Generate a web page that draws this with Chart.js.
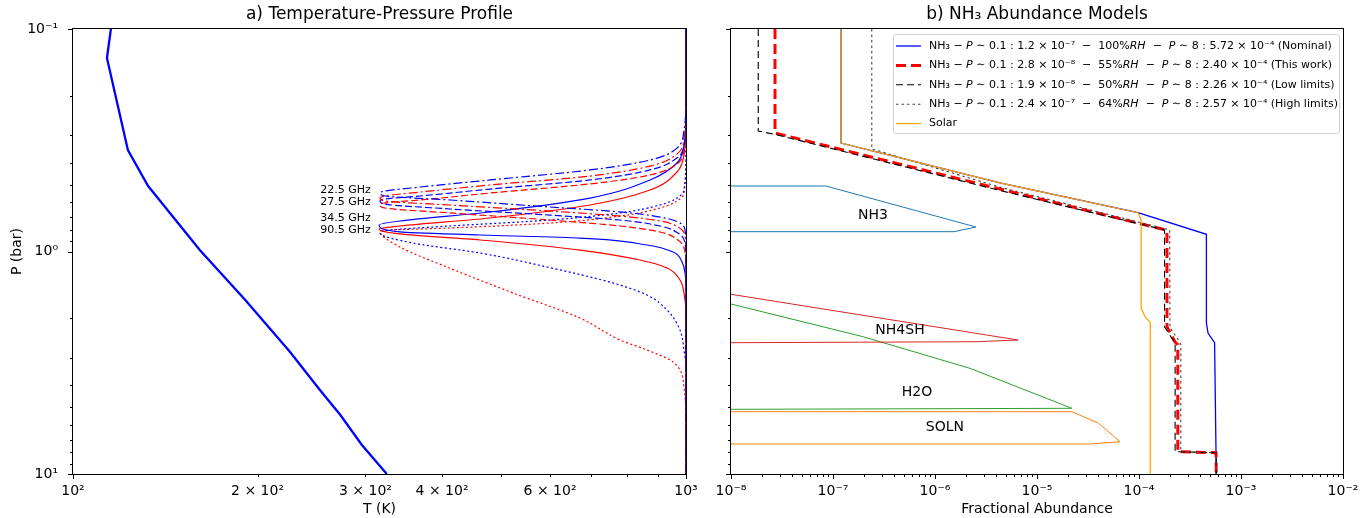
<!DOCTYPE html>
<html><head><meta charset="utf-8">
<script src="https://cdn.jsdelivr.net/npm/chart.js@4.4.0/dist/chart.umd.min.js"></script>
<style>
html,body{margin:0;padding:0;background:#fff;}
#wrap{position:relative;width:1372px;height:518px;background:#fff;}
canvas{position:absolute;top:0;}
</style></head>
<body><div id="wrap">
<canvas id="left" width="700" height="518" style="left:0;width:700px;height:518px"></canvas>
<canvas id="right" width="672" height="518" style="left:700px;width:672px;height:518px"></canvas>
</div>
<script>
// ================= DATA: panel a) Temperature-Pressure Profile =================
// [T (K), P (bar)]
const tpProfile = [[115.3,0.1],[113.6,0.135],[122.9,0.35],[132.6,0.508],[161,0.985],[191,1.65],[226,2.83],[253,4.2],[273,5.43],[296,7.41],[325,10]];
// weighting functions (plotted on the T axis)
const wf22Blue = [[1000,0.1],[1000,0.21],[992.5,0.284],[966.7,0.343],[873.7,0.388],[697.3,0.43],[479,0.477],[368.2,0.513],[322.8,0.535],[316.8,0.546],[322.8,0.563],[412.1,0.587],[600,0.631],[780.5,0.664],[907.2,0.7],[970.4,0.737],[996.3,0.801],[1000,0.935],[1000,10]];
const wf22Red  = [[1000,0.1],[1000,0.231],[992.5,0.309],[966.7,0.365],[873.7,0.413],[697.3,0.458],[479,0.5025],[368.2,0.5405],[322.8,0.563],[316.8,0.575],[322.8,0.593],[412.1,0.618],[600,0.658],[780.5,0.693],[907.2,0.729],[970.4,0.776],[996.3,0.852],[1000,0.985],[1000,10]];
const wf27Blue = [[1000,0.1],[1000,0.256],[992.5,0.332],[966.7,0.38],[873.7,0.43],[697.3,0.477],[479,0.524],[368.2,0.563],[322.8,0.581],[316.8,0.593],[322.8,0.612],[412.1,0.644],[600,0.686],[780.5,0.722],[907.2,0.768],[970.4,0.826],[996.3,0.916],[1000,1.09],[1000,10]];
const wf27Red  = [[1000,0.1],[1000,0.284],[992.5,0.35],[966.7,0.404],[873.7,0.453],[697.3,0.497],[479,0.546],[368.2,0.587],[322.8,0.605],[316.8,0.618],[322.8,0.6375],[412.1,0.671],[600,0.722],[780.5,0.768],[907.2,0.817],[970.4,0.888],[996.3,1.005],[1000,1.21],[1000,10]];
const wf34Blue = [[1000,0.1],[1000,0.231],[992.5,0.332],[966.7,0.4003],[873.7,0.477],[697.3,0.5751],[479,0.6645],[341.5,0.7293],[315.6,0.76],[341.5,0.817],[461.3,0.843],[671.6,0.87],[864,0.935],[952.4,1.005],[985.1,1.115],[996.3,1.249],[1000,1.49],[1000,10]];
const wf34Red  = [[1000,0.1],[1000,0.256],[992.5,0.3685],[966.7,0.4393],[873.7,0.5294],[697.3,0.618],[479,0.707],[341.5,0.768],[315.6,0.792],[341.5,0.834],[461.3,0.888],[671.6,0.985],[841.4,1.092],[931.1,1.186],[977.7,1.343],[992.5,1.537],[1000,1.93],[1000,10]];
const wf90Blue = [[1000,0.1],[1000,0.35],[992.5,0.529],[966.7,0.575],[907.2,0.618],[780.5,0.671],[600,0.722],[412.1,0.768],[328.9,0.801],[316.8,0.826],[358.6,0.916],[461.3,1.016],[593.4,1.174],[760.3,1.386],[864,1.569],[931.1,1.832],[977.7,2.253],[992.5,2.772],[1000,3.41],[1000,10]];
const wf90Red  = [[1000,0.1],[1000,0.3685],[992.5,0.546],[966.7,0.593],[907.2,0.6375],[780.5,0.693],[600,0.745],[412.1,0.784],[328.9,0.801],[316.8,0.809],[341.5,0.955],[407.4,1.174],[522.3,1.537],[671.6,1.991],[780.5,2.499],[864,2.772],[941.7,3.074],[977.7,3.41],[992.5,4.064],[996.3,4.508],[1000,5.71],[1000,10]];
const freqLabels = ['22.5 GHz','27.5 GHz','34.5 GHz','90.5 GHz'];
const freqLabelT = [306,306,306,306];
const freqLabelP = [0.529,0.599,0.707,0.801];
const tempTicks = [100,200,300,400,500,600,700,800,900,1000];
const tempTickLabels = ['10²','2 × 10²','3 × 10²','4 × 10²','','6 × 10²','','','','10³'];
const pressureTicks = [0.1,0.2,0.3,0.4,0.5,0.6,0.7,0.8,0.9,1,2,3,4,5,6,7,8,9,10];
const pressureTickLabels = ['10⁻¹','','','','','','','','','10⁰','','','','','','','','','10¹'];

// ================= DATA: panel b) NH3 Abundance Models =================
// [fractional abundance, P (bar)]
const nominalNH3  = [[1.2e-7,0.1],[1.2e-7,0.3254],[4.33e-6,0.492],[9.77e-5,0.6693],[4.58e-4,0.8369],[4.58e-4,2.096],[4.75e-4,2.325],[5.51e-4,2.57],[5.69e-4,8.04],[5.72e-4,10]];
const thisWorkNH3 = [[2.7e-8,0.1],[2.7e-8,0.2934],[4.33e-6,0.524],[1.84e-4,0.8007],[1.88e-4,0.82],[1.88e-4,2.178],[2.25e-4,2.544],[2.40e-4,2.62],[2.40e-4,7.94],[5.69e-4,8.02],[5.72e-4,10]];
const lowNH3      = [[1.85e-8,0.1],[1.85e-8,0.2874],[2.9e-8,0.3],[4.2e-6,0.53],[1.78e-4,0.8],[1.78e-4,2.18],[2.2e-4,2.54],[2.26e-4,2.62],[2.26e-4,7.94],[5.69e-4,8.02],[5.72e-4,10]];
const highNH3     = [[2.4e-7,0.1],[2.4e-7,0.346],[4.4e-6,0.515],[2.0e-4,0.8],[2.01e-4,2.2],[2.5e-4,2.544],[2.57e-4,2.62],[2.57e-4,7.94],[5.69e-4,8.02],[5.72e-4,10]];
const solarNH3    = [[1.2e-7,0.1],[1.2e-7,0.3254],[4.33e-6,0.492],[9.77e-5,0.6693],[1.05e-4,0.7218],[1.05e-4,1.795],[1.145e-4,1.963],[1.29e-4,2.089],[1.29e-4,10]];
const cloudNH3    = [[1e-8,0.5077],[8.5e-8,0.5077],[2.52e-6,0.7762],[1.535e-6,0.8147],[1e-8,0.8147]];
const cloudNH4SH  = [[1e-8,1.557],[6.52e-6,2.499],[2.58e-6,2.544],[1e-8,2.57]];
const cloudH2O    = [[1e-8,1.722],[1.97e-7,2.415],[2.2e-6,3.35],[2.2e-5,5.067],[1e-8,5.12]];
const cloudSOLN   = [[1e-8,5.248],[2.2e-5,5.248],[4.02e-5,5.92],[6.51e-5,7.157],[3.38e-5,7.33],[1e-8,7.33]];
const cloudLabels = ['NH3','NH4SH','H2O','SOLN'];
const cloudLabelX = [2.47e-7,4.54e-7,6.66e-7,1.25e-6];
const cloudLabelP = [0.6855,2.253,4.28,6.15];
const modelLabels = [
  'NH₃ − *P* ∼ 0.1 : 1.2 × 10⁻⁷  −  100%*RH*  −  *P* ∼ 8 : 5.72 × 10⁻⁴ (Nominal)',
  'NH₃ − *P* ∼ 0.1 : 2.8 × 10⁻⁸  −  55%*RH*  −  *P* ∼ 8 : 2.40 × 10⁻⁴ (This work)',
  'NH₃ − *P* ∼ 0.1 : 1.9 × 10⁻⁸  −  50%*RH*  −  *P* ∼ 8 : 2.26 × 10⁻⁴ (Low limits)',
  'NH₃ − *P* ∼ 0.1 : 2.4 × 10⁻⁷  −  64%*RH*  −  *P* ∼ 8 : 2.57 × 10⁻⁴ (High limits)',
  'Solar'
];
const abundDecades = [1e-8,1e-7,1e-6,1e-5,1e-4,1e-3,1e-2];
const abundDecadeLabels = ['10⁻⁸','10⁻⁷','10⁻⁶','10⁻⁵','10⁻⁴','10⁻³','10⁻²'];

// ================= rendering =================
const FONT = '"DejaVu Sans", sans-serif';
Chart.defaults.font.family = FONT;
Chart.defaults.color = '#000';
const pts = arr => arr.map(([x, y]) => ({x, y}));
const isPow10 = v => Math.abs(Math.log10(v) - Math.round(Math.log10(v))) < 1e-9;
const abundTicks = abundDecades.flatMap((m, i) => i < abundDecades.length - 1 ? [1,2,3,4,5,6,7,8,9].map(k => k * m) : [m]);

const axesFrame = {
  id: 'axesFrame',
  afterDraw(chart) {
    const {ctx, chartArea: a, scales} = chart;
    ctx.save();
    ctx.strokeStyle = '#000';
    ctx.lineWidth = 1;
    ctx.beginPath();
    for (const t of scales.x.ticks) {
      const p = Math.round(scales.x.getPixelForValue(t.value)) + 0.5;
      const len = isPow10(t.value) ? 5 : 3;
      ctx.moveTo(p, Math.round(a.bottom)); ctx.lineTo(p, Math.round(a.bottom) + len);
    }
    for (const t of scales.y.ticks) {
      const p = Math.round(scales.y.getPixelForValue(t.value)) + 0.5;
      const len = isPow10(t.value) ? 5 : 3;
      ctx.moveTo(Math.round(a.left), p); ctx.lineTo(Math.round(a.left) - len, p);
    }
    ctx.stroke();
    ctx.strokeRect(Math.round(a.left) - 0.5, Math.round(a.top) - 0.5, Math.round(a.right) - Math.round(a.left) + 1, Math.round(a.bottom) - Math.round(a.top) + 1);
    ctx.restore();
  }
};
function textPlugin(texts, xs, ys, size, align) {
  return {
    id: 'textMarks',
    afterDatasetsDraw(chart) {
      const {ctx, scales} = chart;
      ctx.save();
      ctx.fillStyle = '#000';
      ctx.font = size + 'px ' + FONT;
      ctx.textAlign = align;
      ctx.textBaseline = 'middle';
      texts.forEach((t, i) => ctx.fillText(t, scales.x.getPixelForValue(xs[i]), scales.y.getPixelForValue(ys[i])));
      ctx.restore();
    }
  };
}
const modelStyles = [
  {color:'#0000ff', width:1.3, dash:[]},
  {color:'#ff0000', width:3, dash:[10,5]},
  {color:'#000000', width:1.1, dash:[7,4]},
  {color:'#444444', width:1.1, dash:[2.5,3]},
  {color:'#ffa500', width:1.3, dash:[]}
];
const legendPlugin = {
  id: 'modelLegend',
  afterDraw(chart) {
    const {ctx, chartArea: a} = chart;
    const w = 446, h = 99;
    const bx = a.right - 4 - w, by = a.top + 5;
    ctx.save();
    ctx.beginPath();
    ctx.roundRect(bx + 0.5, by + 0.5, w, h, 3);
    ctx.fillStyle = 'rgba(255,255,255,0.8)';
    ctx.fill();
    ctx.strokeStyle = '#d0d0d0';
    ctx.lineWidth = 1;
    ctx.stroke();
    modelLabels.forEach((lab, i) => {
      const y = by + 12 + i * 19.4;
      const s = modelStyles[i];
      ctx.beginPath();
      ctx.setLineDash(s.dash);
      ctx.strokeStyle = s.color;
      ctx.lineWidth = s.width;
      ctx.moveTo(bx + 3, y); ctx.lineTo(bx + 28, y);
      ctx.stroke();
      ctx.setLineDash([]);
      ctx.fillStyle = '#000';
      ctx.textBaseline = 'middle';
      ctx.textAlign = 'left';
      let x = bx + 36;
      lab.split('*').forEach((seg, k) => {
        ctx.font = (k % 2 ? 'italic ' : '') + '11px ' + FONT;
        ctx.fillText(seg, x, y);
        x += ctx.measureText(seg).width;
      });
    });
    ctx.restore();
  }
};

function logAxis(min, max, ticks, labels, opts) {
  return Object.assign({
    type: 'logarithmic', min, max,
    grid: {display: false}, border: {display: false},
    afterBuildTicks: s => { s.ticks = ticks.map(v => ({value: v})); },
    ticks: {
      autoSkip: false, maxRotation: 0, minRotation: 0, padding: 7, color: '#000',
      font: {family: FONT, size: 14},
      callback: (v, i) => labels[i]
    }
  }, opts);
}
const fitX = h => s => { s.height = h; s.paddingLeft = 0; s.paddingRight = 0; };
const fitY = w => s => { s.width = w; s.paddingTop = 0; s.paddingBottom = 0; };
const axisTitleFont = {family: FONT, size: 14};
const titleFont = {family: FONT, size: 17, weight: 'normal'};

// -------- left chart --------
const wfStyles = {
  dashdot: [9,3,2,3], dashed: [7,3], solid: [], dotted: [2,2.5]
};
function wf(data, color, dash, label) {
  return {label, data: pts(data), borderColor: color, borderWidth: 1.2, borderDash: dash,
          pointRadius: 0, cubicInterpolationMode: 'monotone', fill: false};
}
const leftX = logAxis(100, 1000, tempTicks, tempTickLabels, {
  position: 'bottom',
  afterFit: fitX(44),
  title: {display: true, text: 'T (K)', color: '#000', font: axisTitleFont, padding: {top: 0, bottom: 0}}
});
leftX.ticks.padding = 1;
new Chart(document.getElementById('left'), {
  type: 'line',
  data: {datasets: [
    {label: 'T-P profile', data: pts(tpProfile), borderColor: '#0000ff', borderWidth: 2.3, pointRadius: 0, tension: 0, fill: false},
    wf(wf22Blue, '#0000ff', wfStyles.dashdot, '22.5 GHz'),
    wf(wf22Red,  '#ff0000', wfStyles.dashdot, '22.5 GHz'),
    wf(wf27Blue, '#0000ff', wfStyles.dashed, '27.5 GHz'),
    wf(wf27Red,  '#ff0000', wfStyles.dashed, '27.5 GHz'),
    wf(wf34Blue, '#0000ff', wfStyles.solid, '34.5 GHz'),
    wf(wf34Red,  '#ff0000', wfStyles.solid, '34.5 GHz'),
    wf(wf90Blue, '#0000ff', wfStyles.dotted, '90.5 GHz'),
    wf(wf90Red,  '#ff0000', wfStyles.dotted, '90.5 GHz')
  ]},
  options: {
    responsive: false, animation: false, devicePixelRatio: 1, indexAxis: 'y',
    layout: {padding: {left: 0, right: 14, top: 0, bottom: 0}},
    scales: {
      x: leftX,
      y: logAxis(0.1, 10, pressureTicks, pressureTickLabels, {
        position: 'left', reverse: true,
        afterFit: fitY(73),
        title: {display: true, text: 'P (bar)', color: '#000', font: axisTitleFont, padding: {top: 9, bottom: 0}}
      })
    },
    plugins: {
      legend: {display: false}, tooltip: {enabled: false},
      title: {display: true, text: 'a) Temperature-Pressure Profile', fullSize: false, color: '#000',
              font: titleFont, padding: {top: 4, bottom: 4.6}}
    }
  },
  plugins: [axesFrame, textPlugin(freqLabels, freqLabelT, freqLabelP, 11, 'right')]
});

// -------- right chart --------
function modelSet(data, i, label) {
  const s = modelStyles[i];
  return {label, data: pts(data), borderColor: s.color, borderWidth: s.width, borderDash: s.dash,
          pointRadius: 0, tension: 0, fill: false};
}
function cloudSet(data, color, label) {
  return {label, data: pts(data), borderColor: color, borderWidth: 1, pointRadius: 0, tension: 0, fill: false};
}
const rightX = logAxis(1e-8, 1e-2, abundTicks, abundTicks.map(v => {
    const k = abundDecades.findIndex(m => Math.abs(v / m - 1) < 1e-9);
    return k >= 0 ? abundDecadeLabels[k] : '';
  }), {
  position: 'bottom',
  afterFit: fitX(44),
  title: {display: true, text: 'Fractional Abundance', color: '#000', font: axisTitleFont, padding: {top: 0, bottom: 0}}
});
rightX.ticks.padding = 1;
const rightY = logAxis(0.1, 10, pressureTicks, pressureTickLabels, {
  position: 'left', reverse: true,
  afterFit: fitY(31)
});
rightY.ticks.display = false;
new Chart(document.getElementById('right'), {
  type: 'line',
  data: {datasets: [
    cloudSet(cloudNH3, '#1f77b4', 'NH3 cloud'),
    cloudSet(cloudNH4SH, '#d62728', 'NH4SH cloud'),
    cloudSet(cloudH2O, '#2ca02c', 'H2O cloud'),
    cloudSet(cloudSOLN, '#ff7f0e', 'SOLN cloud'),
    modelSet(solarNH3, 4, 'Solar'),
    modelSet(highNH3, 3, 'High limits'),
    modelSet(lowNH3, 2, 'Low limits'),
    modelSet(thisWorkNH3, 1, 'This work'),
    modelSet(nominalNH3, 0, 'Nominal')
  ]},
  options: {
    responsive: false, animation: false, devicePixelRatio: 1,
    layout: {padding: {left: 0, right: 29, top: 0, bottom: 0}},
    scales: { x: rightX, y: rightY },
    plugins: {
      legend: {display: false}, tooltip: {enabled: false},
      title: {display: true, text: 'b) NH₃ Abundance Models', fullSize: false, color: '#000',
              font: titleFont, padding: {top: 4, bottom: 4.6}}
    }
  },
  plugins: [axesFrame, textPlugin(cloudLabels, cloudLabelX, cloudLabelP, 14, 'center'), legendPlugin]
});
</script>
</body></html>
